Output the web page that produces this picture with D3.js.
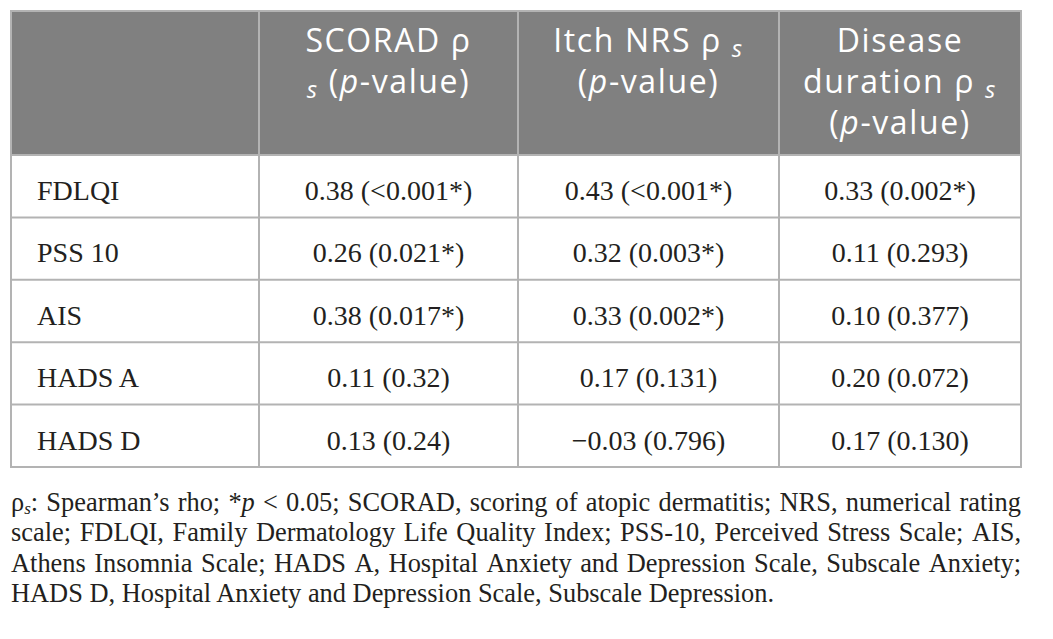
<!DOCTYPE html>
<html>
<head>
<meta charset="utf-8">
<script src="https://cdn.jsdelivr.net/npm/d3@7"></script>
<style>
  body { margin: 0; background: #fff; }
  svg { display: block; }
</style>
</head>
<body>
<svg id="chart" width="1053" height="639"></svg>
<script>
// Correlations (Spearman rho, p-value)
const measures = ['FDLQI', 'PSS 10', 'AIS', 'HADS A', 'HADS D'];
const scoradRho = [0.38, 0.26, 0.38, 0.11, 0.13];
const scoradP = ['<0.001*', '0.021*', '0.017*', '0.32', '0.24'];
const itchRho = [0.43, 0.32, 0.33, 0.17, -0.03];
const itchP = ['<0.001*', '0.003*', '0.002*', '0.131', '0.796'];
const durationRho = [0.33, 0.11, 0.10, 0.20, 0.17];
const durationP = ['0.002*', '0.293', '0.377', '0.072', '0.130'];

// "~x~" = italic subscript, "_x_" = italic
const headers = [
  ['SCORAD ρ', '~s~ (_p_-value)'],
  ['Itch NRS ρ ~s~', '(_p_-value)'],
  ['Disease', 'duration ρ ~s~', '(_p_-value)']
];

const footnote = [
  'ρ~s~: Spearman’s rho; *_p_ < 0.05; SCORAD, scoring of atopic dermatitis; NRS, numerical rating',
  'scale; FDLQI, Family Dermatology Life Quality Index; PSS-10, Perceived Stress Scale; AIS,',
  'Athens Insomnia Scale; HADS A, Hospital Anxiety and Depression Scale, Subscale Anxiety;',
  'HADS D, Hospital Anxiety and Depression Scale, Subscale Depression.'
];

const box = {left: 11, right: 1021, top: 11, head: 155, bottom: 467};
const colWidths = [248, 259, 261, 242];
const edges = colWidths.reduce((a, w) => a.concat(a[a.length - 1] + w), [box.left]);
const serif = '"Liberation Serif", "Times New Roman", serif';
const sans = '"Open Sans", "Noto Sans", sans-serif';
const ink = '#231f20';
const rule = '#b3b3b3';

const svg = d3.select('#chart');
const y = d3.scaleBand().domain(measures).range([box.head, box.bottom]);
const fmt = d3.format('.2f');

function rich(text, str, sub) {
  let shift = 0;
  str.split(/(~[^~]+~|_[^_]+_)/).filter((s) => s).forEach((part) => {
    const t = text.append('tspan');
    if (part[0] === '~') {
      t.attr('font-style', 'italic').attr('font-size', sub.size)
        .attr('dy', sub.dy - shift).text(part.slice(1, -1));
      shift = sub.dy;
    } else {
      if (part[0] === '_') {
        t.attr('font-style', 'italic');
        part = part.slice(1, -1);
      }
      t.attr('dy', -shift).text(part);
      shift = 0;
    }
  });
}

// header background
svg.append('rect')
  .attr('x', box.left).attr('y', box.top)
  .attr('width', box.right - box.left).attr('height', box.head - box.top)
  .attr('fill', '#808080');

// header text (top aligned)
headers.forEach((lines, c) => {
  const cx = (edges[c + 1] + edges[c + 2]) / 2;
  lines.forEach((line, j) => {
    const t = svg.append('text')
      .attr('x', cx).attr('y', 52 + j * 41)
      .attr('text-anchor', 'middle')
      .attr('font-family', sans).attr('font-size', 32)
      .attr('letter-spacing', 1.6)
      .attr('fill', '#fff');
    rich(t, line, {size: 24, dy: 5});
  });
});

// body rows
const rows = measures.map((m, i) => ({
  m: m,
  cells: [
    fmt(scoradRho[i]) + ' (' + scoradP[i] + ')',
    fmt(itchRho[i]) + ' (' + itchP[i] + ')',
    fmt(durationRho[i]) + ' (' + durationP[i] + ')'
  ]
}));

const g = svg.selectAll('.row')
  .data(rows)
  .join('g')
  .classed('row', true)
  .attr('transform', (d) => `translate(0,${y(d.m)})`)
  .attr('font-family', serif).attr('font-size', 28).attr('fill', ink);

g.append('text')
  .attr('x', edges[0] + 26).attr('y', 45)
  .text((d) => d.m);

g.selectAll('.cell')
  .data((d) => d.cells)
  .join('text')
  .classed('cell', true)
  .attr('x', (d, i) => (edges[i + 1] + edges[i + 2]) / 2)
  .attr('y', 45)
  .attr('text-anchor', 'middle')
  .text((d) => d);

// grid lines
svg.selectAll('.hline')
  .data(measures.slice(1))
  .join('line')
  .attr('x1', box.left).attr('x2', box.right)
  .attr('y1', (d) => y(d)).attr('y2', (d) => y(d))
  .attr('stroke', rule).attr('stroke-width', 2);

svg.append('line')
  .attr('x1', box.left).attr('x2', box.right)
  .attr('y1', box.head).attr('y2', box.head)
  .attr('stroke', rule).attr('stroke-width', 2);

svg.selectAll('.vline')
  .data(edges.slice(1, -1))
  .join('line')
  .attr('x1', (d) => d).attr('x2', (d) => d)
  .attr('y1', box.top).attr('y2', box.bottom)
  .attr('stroke', rule).attr('stroke-width', 2);

svg.append('rect')
  .attr('x', box.left).attr('y', box.top)
  .attr('width', box.right - box.left).attr('height', box.bottom - box.top)
  .attr('fill', 'none').attr('stroke', rule).attr('stroke-width', 2);

// footnote, justified except last line
const foot = svg.append('g')
  .attr('font-family', serif).attr('font-size', 26.4).attr('fill', ink);

footnote.forEach((line, li) => {
  const by = 511 + li * 30.3;
  if (li === footnote.length - 1) {
    rich(foot.append('text').attr('x', box.left).attr('y', by), line, {size: 17, dy: 3});
    return;
  }
  const words = line.split(' ').map((w) => {
    const t = foot.append('text').attr('y', by);
    rich(t, w, {size: 17, dy: 3});
    return {t: t, w: t.node().getComputedTextLength()};
  });
  const total = d3.sum(words, (d) => d.w);
  const gap = (box.right - box.left - total) / (words.length - 1);
  let x = box.left;
  words.forEach((d) => {
    d.t.attr('x', x);
    x += d.w + gap;
  });
});
</script>
</body>
</html>
